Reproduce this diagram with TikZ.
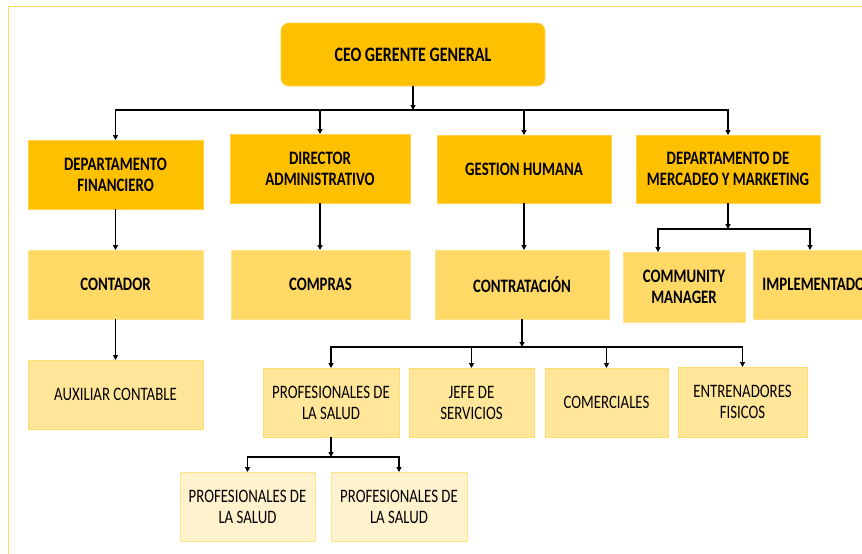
\documentclass[tikz,border=0pt]{standalone}
\usepackage{fontspec}
\setmainfont{Carlito}[FakeStretch=0.78]
\usetikzlibrary{arrows.meta}
\definecolor{lvA}{HTML}{FFC000}
\definecolor{lvAb}{HTML}{FFD24D}
\definecolor{lvB}{HTML}{FFD966}
\definecolor{lvBb}{HTML}{FFE38A}
\definecolor{lvC}{HTML}{FFE699}
\definecolor{lvCb}{HTML}{FFDC6E}
\definecolor{lvD}{HTML}{FFF2CC}
\definecolor{lvDb}{HTML}{FFE38A}
\definecolor{framecol}{HTML}{FFD966}
\tikzset{
  base/.style={rectangle, inner sep=0pt, outer sep=0pt, align=center, line width=0.8pt, text=black},
  topbox/.style={base, fill=lvA, draw=lvAb, rounded corners=8pt, font=\bfseries\fontsize{20.5}{22}\selectfont},
  boxA/.style={base, fill=lvA, draw=lvAb, font=\bfseries\fontsize{19}{21}\selectfont},
  boxB/.style={base, fill=lvB, draw=lvBb, font=\bfseries\fontsize{19}{21}\selectfont},
  boxC/.style={base, fill=lvC, draw=lvCb, font=\fontsize{19}{21}\selectfont},
  boxD/.style={base, fill=lvD, draw=lvDb, font=\fontsize{19}{21}\selectfont},
  conn/.style={line width=1.6pt, draw=black},
  arr/.style={conn, -{Triangle[length=5pt,width=5pt]}}
}
\begin{document}
\begin{tikzpicture}[x=1pt,y=-1pt]
\useasboundingbox (0,0) rectangle (862,554);
\draw[framecol, line width=1pt] (8,560) -- (8,6) -- (880,6);

\node[topbox, minimum width=264, minimum height=63] (ceo) at (413,54.5) {CEO GERENTE GENERAL};

\node[boxA, minimum width=175, minimum height=69] (df) at (115.5,174.5) {DEPARTAMENTO\\FINANCIERO};
\node[boxA, minimum width=180, minimum height=69] (da) at (320,168.5) {DIRECTOR\\ADMINISTRATIVO};
\node[boxA, minimum width=174, minimum height=68] (gh) at (524,169) {GESTION HUMANA};
\node[boxA, minimum width=184, minimum height=68] (dm) at (728,169) {DEPARTAMENTO DE\\MERCADEO Y MARKETING};

\node[boxB, minimum width=175, minimum height=69] (contador) at (115.5,284.5) {CONTADOR};
\node[boxB, minimum width=179, minimum height=69] (compras) at (320.5,284.5) {COMPRAS};
\node[boxB, minimum width=174, minimum height=69] (contr) at (522,284.5) {CONTRATACIÓN};
\node[boxB, minimum width=122, minimum height=70] (cm) at (684,287) {COMMUNITY\\MANAGER};
\node[boxB, minimum width=130, minimum height=69] (impl) at (818,284.5) {IMPLEMENTADOR};

\node[boxC, minimum width=175, minimum height=69] (aux) at (115.5,394.5) {AUXILIAR CONTABLE};
\node[boxC, minimum width=136, minimum height=69] (prof) at (331,402.5) {PROFESIONALES DE\\LA SALUD};
\node[boxC, minimum width=125, minimum height=69] (jefe) at (471.5,402.5) {JEFE DE\\SERVICIOS};
\node[boxC, minimum width=123, minimum height=69] (com) at (606.5,402.5) {COMERCIALES};
\node[boxC, minimum width=129, minimum height=70] (ent) at (742.5,402) {ENTRENADORES\\FISICOS};

\node[boxD, minimum width=135, minimum height=69] (pa) at (247.5,506.5) {PROFESIONALES DE\\LA SALUD};
\node[boxD, minimum width=136, minimum height=69] (pb) at (399,506.5) {PROFESIONALES DE\\LA SALUD};

% CEO bus
\coordinate (b1) at (413,110);
\draw[arr] (ceo) -- (b1);
\draw[arr] (b1) -| (df.north);
\draw[arr] (b1) -| (da.north);
\draw[arr] (b1) -| (gh.north);
\draw[arr] (b1) -| (dm.north);

\draw[arr] (df) -- (contador);
\draw[arr] (da.south) -- (da.south |- compras.north);
\draw[arr] (gh.south) -- (gh.south |- contr.north);
\draw[arr] (contador) -- (aux);

% Mercadeo bus
\coordinate (b2) at (728,229);
\draw[arr] (dm) -- (b2);
\draw[arr] (b2) -| ([xshift=35pt]cm.north west);
\draw[arr] (b2) -| ([xshift=57pt]impl.north west);

% Contratacion bus
\coordinate (b3) at (522,347);
\draw[arr] (contr) -- (b3);
\draw[arr] (b3) -| (prof.north);
\draw[arr] (b3) -| (jefe.north);
\draw[arr] (b3) -| (com.north);
\draw[arr] (b3) -| (ent.north);

% Profesionales bus
\coordinate (b4) at (331,457);
\draw[arr] (prof) -- (b4);
\draw[arr] (b4) -| (pa.north);
\draw[arr] (b4) -| (pb.north);
\end{tikzpicture}
\end{document}
